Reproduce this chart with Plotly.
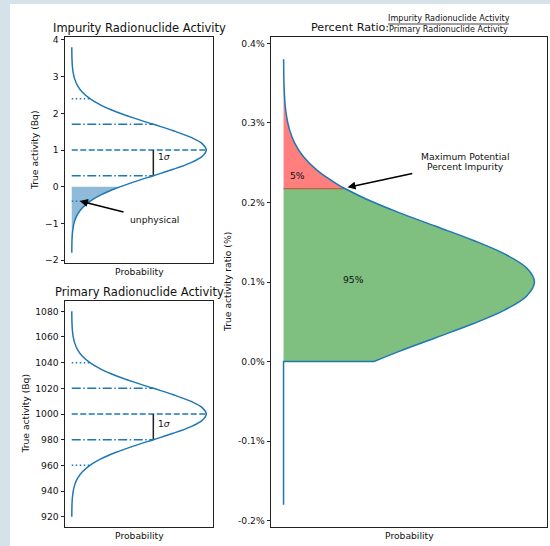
import plotly.graph_objects as go

# ---------------- data ----------------
# relative probability density (peak = 1)
rel_prob = [0.0003, 0.0009, 0.0022, 0.0051, 0.0111, 0.0228, 0.0439, 0.0796, 0.1353,
            0.2163, 0.3247, 0.4578, 0.6065, 0.7548, 0.8825, 0.9692, 1.0,
            0.9692, 0.8825, 0.7548, 0.6065, 0.4578, 0.3247, 0.2163, 0.1353,
            0.0796, 0.0439, 0.0228, 0.0111, 0.0051, 0.0022, 0.0009, 0.0003]
impurity_activity = [-1.8, -1.625, -1.45, -1.275, -1.1, -0.925, -0.75, -0.575, -0.4,
                     -0.225, -0.05, 0.125, 0.3, 0.475, 0.65, 0.825, 1.0,
                     1.175, 1.35, 1.525, 1.7, 1.875, 2.05, 2.225, 2.4,
                     2.575, 2.75, 2.925, 3.1, 3.275, 3.45, 3.625, 3.8]
primary_activity = [920, 925, 930, 935, 940, 945, 950, 955, 960, 965, 970, 975, 980,
                    985, 990, 995, 1000, 1005, 1010, 1015, 1020, 1025, 1030, 1035,
                    1040, 1045, 1050, 1055, 1060, 1065, 1070, 1075, 1080]
unphysical_edge_activity = 0.0
unphysical_edge_prob = 0.3604

impurity_levels = [-0.4, 0.3, 1.0, 1.7, 2.4]
primary_levels = [960, 980, 1000, 1020, 1040]
level_prob = [0.1353, 0.6065, 1.0, 0.6065, 0.1353]

ratio_pct = [0.0, 0.0125, 0.03, 0.0475, 0.065, 0.0825, 0.1, 0.1175, 0.135, 0.1525,
             0.17, 0.1875, 0.205, 0.2175, 0.2225, 0.24, 0.2575, 0.275, 0.2925, 0.31,
             0.3275, 0.345, 0.3625, 0.38]
ratio_prob = [0.3604, 0.4578, 0.6065, 0.7548, 0.8825, 0.9692, 1.0, 0.9692, 0.8825, 0.7548,
              0.6065, 0.4578, 0.3247, 0.2444, 0.2163, 0.1353, 0.0796, 0.0439, 0.0228, 0.0111,
              0.0051, 0.0022, 0.0009, 0.0003]
ratio_negative_pct = [-0.18, 0.0]
ratio_95_pct = 0.2175
ratio_95_prob = 0.2444

impurity_ticks = [-2, -1, 0, 1, 2, 3, 4]
impurity_ticktext = ["\u22122", "\u22121", "0", "1", "2", "3", "4"]
primary_ticks = [920, 940, 960, 980, 1000, 1020, 1040, 1060, 1080]
ratio_ticks = [-0.2, -0.1, 0.0, 0.1, 0.2, 0.3, 0.4]
ratio_ticktext = ["-0.2%", "-0.1%", "0.0%", "0.1%", "0.2%", "0.3%", "0.4%"]

# ---------------- styling ----------------
W, H = 550, 546
BLUE = "#1f77b4"
FONT = "DejaVu Sans"
TXT = "#111111"
level_dash = ["1.5px,2.5px", "9px,2.5px,1.5px,2.5px", "6px,2.5px",
              "9px,2.5px,1.5px,2.5px", "1.5px,2.5px"]


def px_x(v):
    return v / W


def px_y(v):
    return 1 - v / H


fig = go.Figure()

# ---- panel 1: impurity ----
n_neg = sum(1 for a in impurity_activity if a < 0)
fig.add_trace(go.Scatter(
    x=rel_prob[:n_neg] + [unphysical_edge_prob],
    y=impurity_activity[:n_neg] + [unphysical_edge_activity],
    mode="lines", line=dict(width=0, shape="spline", color=BLUE),
    fill="tozerox", fillcolor="rgba(31,119,180,0.5)",
    xaxis="x", yaxis="y", hoverinfo="skip"))
for lv, lp, dsh in zip(impurity_levels, level_prob, level_dash):
    fig.add_trace(go.Scatter(x=[0, lp], y=[lv, lv], mode="lines",
                             line=dict(color=BLUE, width=1.5, dash=dsh),
                             xaxis="x", yaxis="y"))
fig.add_trace(go.Scatter(x=[level_prob[1], level_prob[1]],
                         y=[impurity_levels[1], impurity_levels[2]], mode="lines",
                         line=dict(color="#222222", width=1.5), xaxis="x", yaxis="y"))
fig.add_trace(go.Scatter(x=rel_prob, y=impurity_activity, mode="lines",
                         line=dict(color=BLUE, width=1.5, shape="spline"),
                         xaxis="x", yaxis="y"))

# ---- panel 2: primary ----
for lv, lp, dsh in zip(primary_levels, level_prob, level_dash):
    fig.add_trace(go.Scatter(x=[0, lp], y=[lv, lv], mode="lines",
                             line=dict(color=BLUE, width=1.5, dash=dsh),
                             xaxis="x2", yaxis="y2"))
fig.add_trace(go.Scatter(x=[level_prob[1], level_prob[1]],
                         y=[primary_levels[1], primary_levels[2]], mode="lines",
                         line=dict(color="#222222", width=1.5), xaxis="x2", yaxis="y2"))
fig.add_trace(go.Scatter(x=rel_prob, y=primary_activity, mode="lines",
                         line=dict(color=BLUE, width=1.5, shape="spline"),
                         xaxis="x2", yaxis="y2"))

# ---- panel 3: ratio ----
k95 = ratio_pct.index(ratio_95_pct)
fig.add_trace(go.Scatter(x=ratio_prob[:k95 + 1], y=ratio_pct[:k95 + 1], mode="lines",
                         line=dict(width=0, shape="spline", color="green"),
                         fill="tozerox", fillcolor="rgba(0,128,0,0.5)",
                         xaxis="x3", yaxis="y3"))
fig.add_trace(go.Scatter(x=ratio_prob[k95:], y=ratio_pct[k95:], mode="lines",
                         line=dict(width=0, shape="spline", color="red"),
                         fill="tozerox", fillcolor="rgba(255,0,0,0.5)",
                         xaxis="x3", yaxis="y3"))
fig.add_trace(go.Scatter(x=[0, ratio_95_prob], y=[ratio_95_pct, ratio_95_pct], mode="lines",
                         line=dict(color="#bf6040", width=1.2), xaxis="x3", yaxis="y3"))
fig.add_trace(go.Scatter(x=[0, 0, ratio_prob[0]],
                         y=ratio_negative_pct + [ratio_pct[0]], mode="lines",
                         line=dict(color=BLUE, width=1.5), xaxis="x3", yaxis="y3"))
fig.add_trace(go.Scatter(x=ratio_prob, y=ratio_pct, mode="lines",
                         line=dict(color=BLUE, width=1.5, shape="spline"),
                         xaxis="x3", yaxis="y3"))

# ---------------- axes ----------------
box = dict(showline=True, mirror=True, linecolor="#222222", linewidth=1,
           showgrid=False, zeroline=False)
xcommon = dict(range=[-0.05, 1.05], showticklabels=False, ticks="", **box)
ycommon = dict(ticks="outside", ticklen=3.5, tickcolor="#222222", tickwidth=1,
               tickfont=dict(family=FONT, size=9.2, color=TXT), automargin=False, **box)

fig.update_layout(
    width=W, height=H,
    margin=dict(l=0, r=0, t=0, b=0),
    paper_bgcolor="#d6e2ea", plot_bgcolor="white",
    showlegend=False,
    font=dict(family=FONT, color=TXT),
    xaxis=dict(domain=[px_x(65), px_x(213)], anchor="y", **xcommon),
    yaxis=dict(domain=[px_y(263), px_y(37)], anchor="x", range=[-2.08, 4.08],
               tickvals=impurity_ticks, ticktext=impurity_ticktext, **ycommon),
    xaxis2=dict(domain=[px_x(65), px_x(213)], anchor="y2", **xcommon),
    yaxis2=dict(domain=[px_y(527), px_y(301)], anchor="x2", range=[912, 1088],
                tickvals=primary_ticks, **ycommon),
    xaxis3=dict(domain=[px_x(271), px_x(547)], anchor="y3", **xcommon),
    yaxis3=dict(domain=[px_y(527), px_y(37)], anchor="x3", range=[-0.208, 0.408],
                tickvals=ratio_ticks, ticktext=ratio_ticktext, **ycommon),
)

fig.add_shape(type="rect", xref="paper", yref="paper", x0=px_x(10), x1=1.0,
              y0=0, y1=px_y(4), fillcolor="white", line=dict(width=0), layer="below")
# fraction bar in the title
fig.add_shape(type="line", xref="paper", yref="paper", x0=px_x(388), x1=px_x(509),
              y0=px_y(24), y1=px_y(24), line=dict(color="#111111", width=0.8))


def ptext(text, x, y, size, angle=0, xanchor="center"):
    fig.add_annotation(text=text, xref="paper", yref="paper", x=px_x(x), y=px_y(y),
                       showarrow=False, xanchor=xanchor, yanchor="middle",
                       textangle=angle, font=dict(family=FONT, size=size, color=TXT))


ptext("Impurity Radionuclide Activity", 139, 27.5, 11.5)
ptext("Primary Radionuclide Activity", 139, 291.5, 11.5)
ptext("Percent Ratio:", 309, 27.5, 11.2, xanchor="left")
ptext("Impurity Radionuclide Activity", 448.5, 18.5, 8.1)
ptext("Primary Radionuclide Activity", 448.5, 28.5, 8.1)
ptext("True activity (Bq)", 34, 150, 9.2, angle=-90)
ptext("True activity (Bq)", 24.5, 414, 9.2, angle=-90)
ptext("True activity ratio (%)", 227, 282, 9.2, angle=-90)
ptext("Probability", 139, 271.5, 9.2)
ptext("Probability", 139, 535, 9.2)
ptext("Probability", 409, 535, 9.2)


def dtext(text, x, y, xr, yr, xanchor="center", xshift=0):
    fig.add_annotation(text=text, xref=xr, yref=yr, x=x, y=y, showarrow=False,
                       xanchor=xanchor, yanchor="middle", xshift=xshift,
                       font=dict(family=FONT, size=9.2, color=TXT))


def arrow(x, y, ax, ay, xr, yr):
    fig.add_annotation(text="", xref=xr, yref=yr, axref=xr, ayref=yr,
                       x=x, y=y, ax=ax, ay=ay, showarrow=True, arrowhead=2,
                       arrowsize=1, arrowwidth=1.6, arrowcolor="black", standoff=0)


dtext("1<i>σ</i>", level_prob[1], 0.81, "x", "y", xanchor="left", xshift=3)
dtext("1<i>σ</i>", level_prob[1], 992.5, "x2", "y2", xanchor="left", xshift=3)
dtext("unphysical", 0.419, -0.888, "x", "y", xanchor="left")
arrow(0.06, -0.39, 0.396, -0.70, "x", "y")

dtext("5%", 0.056, 0.2342, "x3", "y3")
dtext("95%", 0.279, 0.1035, "x3", "y3")
dtext("Maximum Potential", 0.725, 0.2575, "x3", "y3")
dtext("Percent Impurity", 0.725, 0.2449, "x3", "y3")
arrow(0.255, 0.219, 0.519, 0.2367, "x3", "y3")

fig.write_html("out.html",
               config={"displayModeBar": False},
               post_script="document.body.style.margin='0';"
                           "document.body.style.padding='0';"
                           "document.body.style.overflow='hidden';")
